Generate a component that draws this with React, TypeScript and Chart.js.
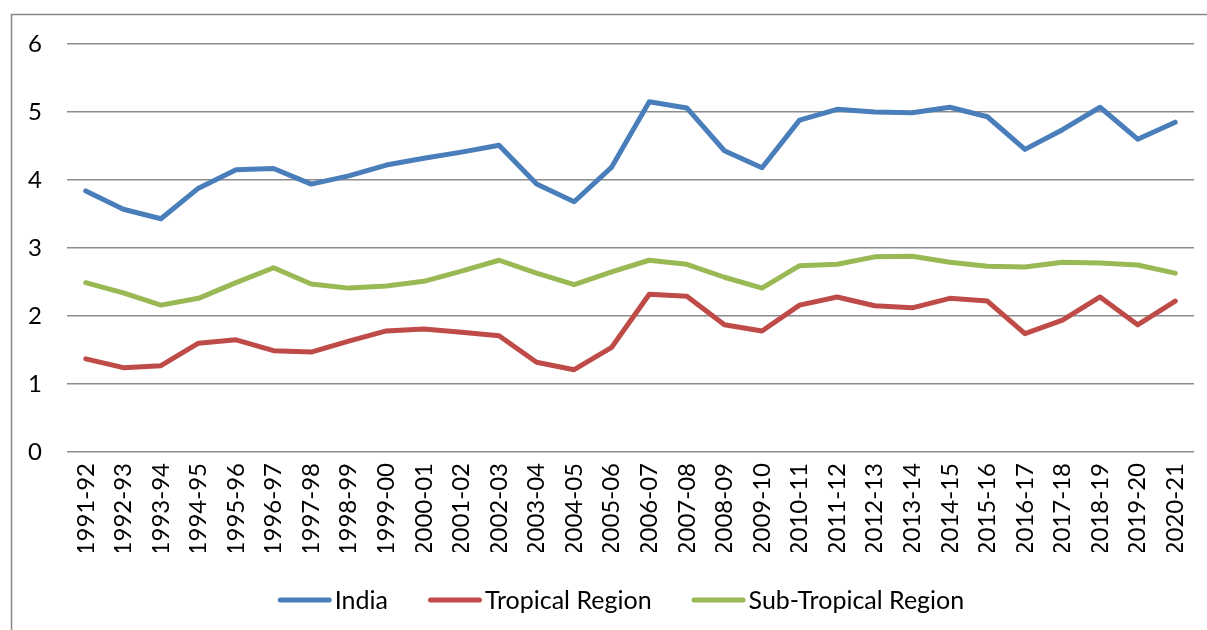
import React, { useEffect, useRef } from "react";
import { Chart, registerables } from "chart.js";

Chart.register(...registerables);

const categories = [
  "1991-92", "1992-93", "1993-94", "1994-95", "1995-96", "1996-97", "1997-98", "1998-99", "1999-00", "2000-01",
  "2001-02", "2002-03", "2003-04", "2004-05", "2005-06", "2006-07", "2007-08", "2008-09", "2009-10", "2010-11",
  "2011-12", "2012-13", "2013-14", "2014-15", "2015-16", "2016-17", "2017-18", "2018-19", "2019-20", "2020-21",
];

const india = [
  3.84, 3.57, 3.43, 3.88, 4.15, 4.17, 3.94, 4.06, 4.22, 4.32,
  4.41, 4.51, 3.94, 3.68, 4.19, 5.15, 5.06, 4.43, 4.18, 4.88,
  5.04, 5.0, 4.99, 5.07, 4.93, 4.45, 4.74, 5.07, 4.6, 4.85,
];

const tropical = [
  1.37, 1.24, 1.27, 1.6, 1.65, 1.49, 1.47, 1.63, 1.78, 1.81,
  1.76, 1.71, 1.32, 1.21, 1.54, 2.32, 2.29, 1.87, 1.78, 2.16,
  2.28, 2.15, 2.12, 2.26, 2.22, 1.74, 1.94, 2.28, 1.87, 2.22,
];

const subTropical = [
  2.49, 2.34, 2.16, 2.26, 2.49, 2.71, 2.47, 2.41, 2.44, 2.51,
  2.66, 2.82, 2.63, 2.46, 2.65, 2.82, 2.76, 2.57, 2.41, 2.74,
  2.76, 2.87, 2.88, 2.79, 2.73, 2.72, 2.79, 2.78, 2.75, 2.63,
];

const seriesNames = ["India", "Tropical Region", "Sub-Tropical Region"];
const seriesColors = ["#4A7EBB", "#BE4B48", "#98B954"];

const yMin = 0;
const yMax = 6;
const yStep = 1;

const FONT = "Lato, 'Open Sans', sans-serif";

const framePlugin = {
  id: "frame",
  beforeDraw(chart: any) {
    const ctx = chart.ctx;
    ctx.save();
    ctx.fillStyle = "#ffffff";
    ctx.fillRect(0, 0, chart.width, chart.height);
    ctx.strokeStyle = "#878787";
    ctx.lineWidth = 1.5;
    ctx.beginPath();
    ctx.moveTo(11.5, chart.height + 2);
    ctx.lineTo(11.5, 14.5);
    ctx.lineTo(chart.width + 2, 14.5);
    ctx.stroke();
    ctx.restore();
  },
};

// Custom legend: line swatch + label, centered like the original
const legendPlugin = {
  id: "customLegend",
  afterDraw(chart: any) {
    const ctx = chart.ctx;
    const lineLen = 54;
    const textGap = 3;
    const itemGap = 40;
    const centerX = 621;
    const centerY = 600;
    ctx.save();
    ctx.font = `25px ${FONT}`;
    const items = chart.data.datasets.map((d: any) => ({
      label: d.label,
      color: d.borderColor,
      w: ctx.measureText(d.label).width,
    }));
    const total =
      items.reduce((s: number, it: any) => s + lineLen + textGap + it.w, 0) + itemGap * (items.length - 1);
    let x = centerX - total / 2;
    ctx.textBaseline = "middle";
    ctx.textAlign = "left";
    for (const it of items) {
      ctx.strokeStyle = it.color;
      ctx.lineWidth = 5;
      ctx.lineCap = "round";
      ctx.beginPath();
      ctx.moveTo(x + 2.5, centerY);
      ctx.lineTo(x + lineLen - 2.5, centerY);
      ctx.stroke();
      ctx.fillStyle = "#000000";
      ctx.fillText(it.label, x + lineLen + textGap, centerY + 1);
      x += lineLen + textGap + it.w + itemGap;
    }
    ctx.restore();
  },
};

export default function App() {
  const ref = useRef<HTMLCanvasElement | null>(null);

  useEffect(() => {
    document.body.style.margin = "0";
    if (!ref.current) return;
    const values = [india, tropical, subTropical];
    const chart = new Chart(ref.current, {
      type: "line",
      data: {
        labels: categories,
        datasets: values.map((v, i) => ({
          label: seriesNames[i],
          data: v,
          borderColor: seriesColors[i],
          backgroundColor: seriesColors[i],
          borderWidth: 5,
          pointRadius: 0,
          tension: 0,
          borderJoinStyle: "round" as const,
          borderCapStyle: "round" as const,
        })),
      },
      options: {
        animation: false,
        responsive: false,
        maintainAspectRatio: false,
        layout: { padding: { top: 44, left: 0, right: 13, bottom: 78 } },
        plugins: {
          tooltip: { enabled: false },
          legend: { display: false },
        },
        scales: {
          x: {
            offset: true,
            grid: { display: false, drawTicks: false },
            border: { display: false },
            ticks: {
              autoSkip: false,
              maxRotation: 90,
              minRotation: 90,
              padding: 11,
              color: "#000000",
              font: { family: FONT, size: 24 },
            },
            afterFit: (s: any) => {
              s.height = 100;
              s.paddingLeft = 0;
              s.paddingRight = 0;
            },
          },
          y: {
            min: yMin,
            max: yMax,
            ticks: {
              stepSize: yStep,
              padding: 25,
              color: "#000000",
              font: { family: FONT, size: 24 },
            },
            grid: { color: "#8c8c8c", lineWidth: 1.5, drawTicks: false },
            border: { display: false },
            afterFit: (s: any) => {
              s.width = 67;
              s.paddingTop = 0;
              s.paddingBottom = 0;
            },
          },
        },
      },
      plugins: [framePlugin, legendPlugin],
    });
    return () => chart.destroy();
  }, []);

  return (
    <div style={{ position: "absolute", left: 0, top: 0, width: 1207, height: 630 }}>
      <canvas ref={ref} width={1207} height={630} style={{ display: "block" }} />
    </div>
  );
}
